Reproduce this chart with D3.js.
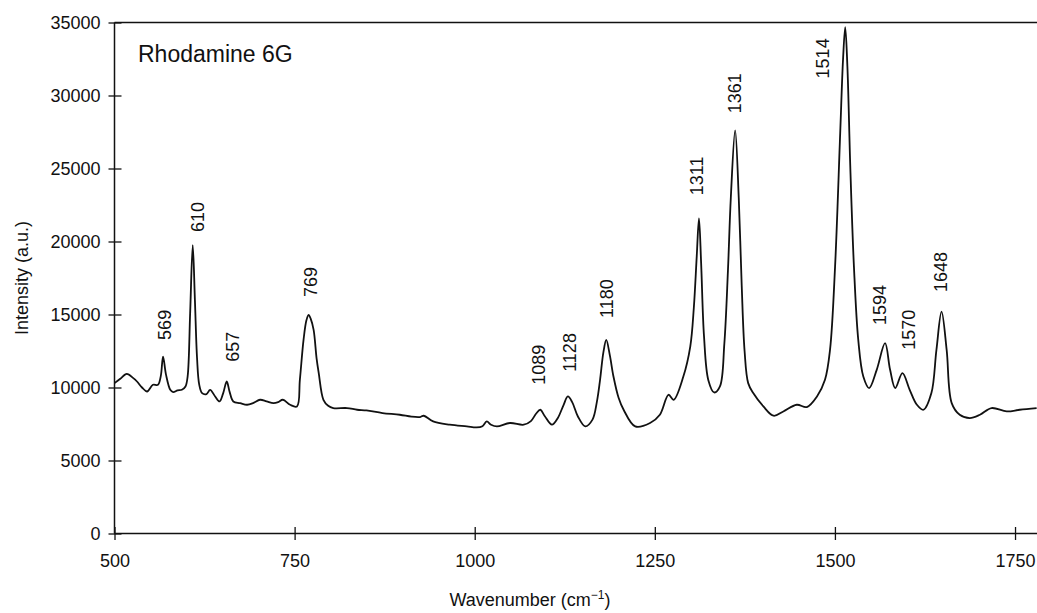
<!DOCTYPE html>
<html>
<head>
    <meta charset="utf-8">
    <title>Rhodamine 6G</title>
    <script src="https://cdn.jsdelivr.net/npm/d3@7/dist/d3.min.js"></script>
    <style>
        html, body {
            margin: 0;
            padding: 0;
            background: #fff;
        }
        svg text {
            font-family: "Liberation Sans", Arial, sans-serif;
            fill: #111;
        }
    </style>
</head>
<body>
<svg id="chart" width="1037" height="613"></svg>
<script>
    // spectrum: wavenumber (cm-1) and intensity (a.u.)
    var wavenumber = [500, 508, 517.1, 526.1, 531.2, 538.2, 545.2, 553.3, 560.3, 564.3, 567.4, 571.4, 577.4,
        581.4, 587.5, 593.5, 598.5, 601.5, 605, 608.6, 611.6, 614.6, 617.6, 621.6, 627.7, 632.7, 639.7,
        645.8, 650.8, 655.8, 659.8, 664.9, 674.4, 684, 693, 702, 711.1, 720.7, 727.2, 733.7, 743.8, 753.3,
        757.3, 762.4, 766.4, 769.4, 772.4, 776.4, 780.5, 783.5, 790, 796.6, 803.6, 822.7, 836.8, 849.8,
        872, 896.1, 912.2, 924.2, 929.3, 942.3, 965.4, 989.1, 1002.6, 1010.7, 1016.7, 1022.7, 1030.8,
        1048.9, 1068, 1078, 1085.1, 1091.1, 1097.1, 1107.2, 1115.2, 1123.3, 1129.3, 1135.3, 1143.4, 1153.4,
        1163.5, 1169.5, 1174, 1178.6, 1182.6, 1187.6, 1192.6, 1199.7, 1206.7, 1222.8, 1243.4, 1257, 1269,
        1276.1, 1289.6, 1299.2, 1304.2, 1308.2, 1311.3, 1314.3, 1318.3, 1324.3, 1332.4, 1340.4, 1346.5,
        1351.5, 1355.5, 1361.5, 1366.5, 1370.6, 1374.6, 1379.6, 1386.6, 1400.7, 1414.8, 1428.4, 1447, 1461,
        1475.1, 1486.2, 1493.2, 1500.2, 1507.3, 1511.3, 1514.3, 1517.3, 1521.4, 1526.4, 1532.4, 1539.4,
        1547.5, 1558, 1569.6, 1576.6, 1583.7, 1593.7, 1603.8, 1613.8, 1622.9, 1633.9, 1640.9, 1648, 1655.1,
        1662.1, 1673.2, 1687.2, 1701.3, 1717.4, 1738.5, 1756.6, 1780];
    var intensity = [10300, 10600, 10937, 10640, 10411, 10000, 9727, 10185, 10185, 10800, 12120, 10900,
        9843, 9687, 9800, 9843, 10070, 10753, 15087, 19755, 16000, 12000, 10200, 9618, 9550, 9843, 9386,
        9044, 9600, 10411, 9700, 9044, 8930, 8818, 8950, 9160, 9050, 8930, 9000, 9160, 8818, 8702, 10527,
        13261, 14600, 14970, 14700, 13945, 12000, 10985, 9160, 8750, 8592, 8592, 8476, 8430, 8250, 8134,
        8000, 7977, 8066, 7677, 7451, 7335, 7267, 7350, 7677, 7450, 7335, 7567, 7451, 7700, 8200, 8476,
        8050, 7451, 7900, 8800, 9386, 9000, 8000, 7335, 7800, 9000, 10527, 12400, 13261, 12200, 10753,
        9300, 8476, 7335, 7567, 8134, 9502, 9160, 10753, 12804, 15500, 19000, 21580, 18500, 13500, 10500,
        9659, 10070, 13000, 18000, 23000, 27617, 23000, 17000, 12500, 10300, 9618, 8702, 8066, 8360,
        8818, 8660, 9386, 10527, 12578, 18272, 27391, 32500, 34680, 32000, 25000, 18272, 13261, 10753,
        9960, 11211, 13036, 11211, 9960, 10985, 9843, 8818, 8476, 9618, 12578, 15196, 12578, 8930, 8134,
        7909, 8134, 8592, 8360, 8476, 8592];

    // peak annotations: text, and the data point where each rotated label starts
    var peakLabels = ['569', '610', '657', '769', '1089', '1128', '1180', '1311', '1361', '1514', '1594', '1570', '1648'];
    var labelWn = [569, 614.6, 663.9, 771.4, 1088.1, 1131.8, 1183.1, 1307.2, 1360.2, 1483, 1561.9, 1602.3, 1647];
    var labelAt = [13261, 20644, 11757, 16200, 10185, 11074, 14765, 23173, 28778, 31171, 14287, 12578, 16543];

    var xTicks = [500, 750, 1000, 1250, 1500, 1750];
    var yTicks = [0, 5000, 10000, 15000, 20000, 25000, 30000, 35000];

    var svg = d3.select('#chart');
    var mLeft = 114.5, mTop = 22.5, mRight = 1037, mBottom = 533.5;

    var x = d3.scaleLinear().domain([500, 1780.5]).range([mLeft, mRight]);
    var y = d3.scaleLinear().domain([0, 35000]).range([mBottom, mTop]);

    // top border line
    svg.append('line')
        .attr('x1', mLeft).attr('x2', mRight)
        .attr('y1', mTop).attr('y2', mTop)
        .attr('stroke', '#111').attr('stroke-width', 1.5);

    // x axis
    var gx = svg.append('g')
        .attr('transform', 'translate(0,' + mBottom + ')')
        .call(d3.axisBottom(x).tickValues(xTicks).tickSize(6.5).tickPadding(14).tickFormat(d3.format('d')));
    gx.selectAll('.tick line').attr('y1', -6.5);

    // y axis
    var gy = svg.append('g')
        .attr('transform', 'translate(' + mLeft + ',0)')
        .call(d3.axisLeft(y).tickValues(yTicks).tickSize(6).tickPadding(8).tickFormat(d3.format('d')));
    gy.selectAll('.tick line').attr('x1', 7);

    svg.selectAll('.domain').attr('stroke', '#111').attr('stroke-width', 1.5);
    svg.selectAll('.tick line').attr('stroke', '#111').attr('stroke-width', 1.3);
    svg.selectAll('.tick text')
        .attr('fill', '#111')
        .style('font-size', '18px')
        .style('font-family', '"Liberation Sans", Arial, sans-serif');
    gx.select('.domain').attr('d', 'M' + mLeft + ',0H' + mRight);
    gy.select('.domain').attr('d', 'M0,' + mBottom + 'V' + mTop);

    // spectrum
    var pts = wavenumber.map(function (w, i) { return [w, intensity[i]]; });
    var line = d3.line()
        .x(function (d) { return x(d[0]); })
        .y(function (d) { return y(d[1]); })
        .curve(d3.curveCatmullRom.alpha(0.5));

    svg.append('path')
        .datum(pts)
        .attr('fill', 'none')
        .attr('stroke', '#111')
        .attr('stroke-width', 1.8)
        .attr('stroke-linejoin', 'round')
        .attr('d', line);

    // peak labels
    svg.append('g').selectAll('text')
        .data(peakLabels)
        .enter()
        .append('text')
        .attr('transform', function (d, i) {
            return 'translate(' + (x(labelWn[i]) + 6.5) + ',' + y(labelAt[i]) + ') rotate(-90)';
        })
        .style('font-size', '18px')
        .text(function (d) { return d; });

    // title inside the plot
    svg.append('text')
        .attr('x', 138)
        .attr('y', 62)
        .style('font-size', '23px')
        .text('Rhodamine 6G');

    // axis titles
    svg.append('text')
        .attr('transform', 'translate(28,' + ((mTop + mBottom) / 2) + ') rotate(-90)')
        .attr('text-anchor', 'middle')
        .style('font-size', '18px')
        .text('Intensity (a.u.)');

    var xt = svg.append('text')
        .attr('x', 530)
        .attr('y', 606)
        .attr('text-anchor', 'middle')
        .style('font-size', '18px');
    xt.append('tspan').text('Wavenumber (cm');
    xt.append('tspan').attr('dy', -7).style('font-size', '12px').text('\u22121');
    xt.append('tspan').attr('dy', 7).text(')');
</script>
</body>
</html>
